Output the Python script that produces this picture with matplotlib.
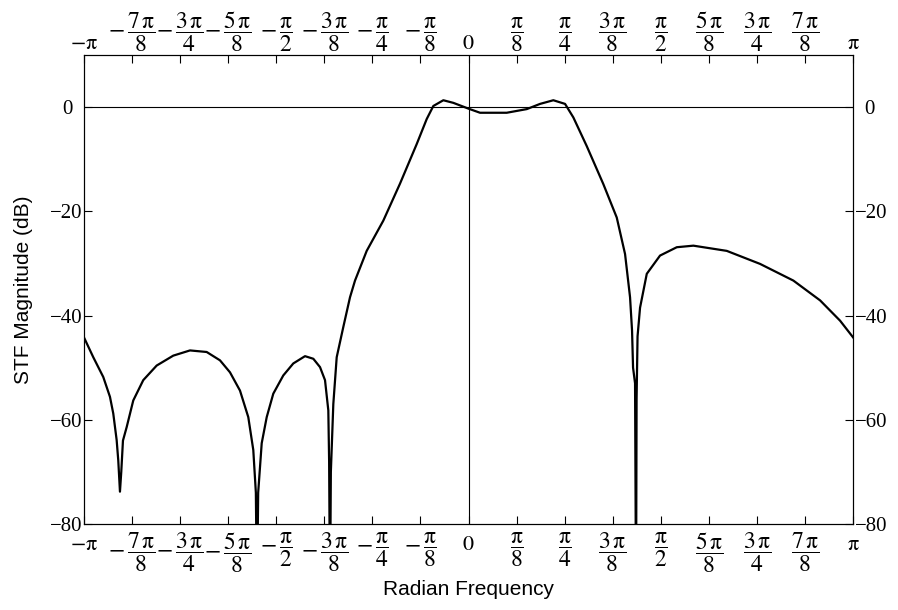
import numpy as np
import matplotlib
matplotlib.use("Agg")
import matplotlib.pyplot as plt

plt.rcParams["mathtext.fontset"] = "stix"
plt.rcParams["font.family"] = "Liberation Serif"

# frequency in units of pi, magnitude in dB
freq_over_pi = [
    -1.0, -0.9758, -0.9498, -0.9324, -0.9238, -0.9150, -0.9108, -0.9064,
    -0.9030, -0.8986, -0.8889, -0.8718, -0.8458, -0.8109, -0.7678, -0.7243,
    -0.6809, -0.6463, -0.6203, -0.5943, -0.5727, -0.5597, -0.5530, -0.5501,
    -0.5470, -0.5378, -0.5248, -0.5077, -0.4817, -0.4557, -0.4252, -0.4036,
    -0.3862, -0.3732, -0.3646, -0.3625, -0.3602, -0.3580, -0.3516, -0.3428,
    -0.3256, -0.3082, -0.2952, -0.2648, -0.2216, -0.1782, -0.1347, -0.1087,
    -0.0915, -0.0655, -0.0395, -0.0005, 0.0299, 0.0993, 0.1514, 0.1860,
    0.2205, 0.2510, 0.2726, 0.3074, 0.3506, 0.3854, 0.4070, 0.4200,
    0.4252, 0.4278, 0.4330, 0.4356, 0.4370, 0.4395, 0.4460, 0.4635,
    0.4980, 0.5415, 0.5847, 0.6715, 0.7581, 0.8447, 0.9142, 0.9662,
    1.0,
]
mag_db = [
    -44.2, -48.0, -51.8, -55.6, -58.8, -63.9, -67.8, -73.8,
    -70.0, -64.0, -61.4, -56.3, -52.4, -49.6, -47.7, -46.7,
    -47.0, -48.6, -50.9, -54.4, -59.5, -65.8, -74.0, -95.0,
    -74.0, -64.5, -59.5, -55.0, -51.5, -49.2, -47.8, -48.3,
    -49.9, -52.4, -58.2, -68.0, -95.0, -70.0, -57.0, -48.0,
    -42.2, -36.5, -33.3, -27.6, -21.8, -14.7, -7.1, -2.3,
    0.2, 1.3, 0.8, -0.3, -1.1, -1.1, -0.4, 0.6,
    1.3, 0.6, -2.0, -7.5, -14.8, -21.2, -28.2, -36.5,
    -42.9, -50.0, -53.0, -95.0, -56.0, -44.0, -38.5, -32.0,
    -28.5, -26.9, -26.6, -27.6, -30.1, -33.3, -37.1, -41.0,
    -44.2,
]

tick_vals = [-1, -7/8, -3/4, -5/8, -1/2, -3/8, -1/4, -1/8, 0,
             1/8, 1/4, 3/8, 1/2, 5/8, 3/4, 7/8, 1]
# numerator, denominator of each tick (as multiples of pi)
tick_num = ["-\\mathrm{\\pi}", "7", "3", "5", "", "3", "", "", "0",
            "", "", "3", "", "5", "3", "7", "\\mathrm{\\pi}"]
tick_den = [None, "8", "4", "8", "2", "8", "4", "8", None,
            "8", "4", "8", "2", "8", "4", "8", None]
y_ticks = [0, -20, -40, -60, -80]


def make_label(val, num, den):
    if den is None:
        return r"$%s$" % num
    sign = r"-\," if val < 0 else ""
    gap = r"\," if num else ""
    return r"$%s\dfrac{%s%s\mathrm{\pi}}{%s}$" % (sign, num, gap, den)


tick_labels = [make_label(v, n, d) for v, n, d in zip(tick_vals, tick_num, tick_den)]

fig = plt.figure(figsize=(8.98, 6.10), dpi=100)
ax = fig.add_axes([0.0935, 0.141, 0.8565, 0.769])

x = np.array(freq_over_pi) * np.pi
ax.plot(x, mag_db, color="black", linewidth=1.6)
ax.axhline(0, color="black", linewidth=0.8)
ax.axvline(0, color="black", linewidth=0.8)

ax.set_xlim(-np.pi, np.pi)
ax.set_ylim(-80, 10)
ax.set_yticks(y_ticks)
ax.tick_params(axis="y", direction="in", length=6, width=0.8,
               right=True, labelright=True, labelsize=15, pad=1)
for tick, val in zip(ax.yaxis.get_major_ticks(), y_ticks):
    if val == 0:
        tick.set_pad(8)

ax_top = ax.twiny()
ax_top.set_xlim(ax.get_xlim())

for a, top in [(ax, False), (ax_top, True)]:
    a.set_xticks(np.array(tick_vals) * np.pi)
    a.set_xticklabels(tick_labels)
    a.tick_params(axis="x", direction="in", length=6, width=0.8, labelsize=17,
                  pad=0.5 if top else 4.5)
    for tick, den in zip(a.xaxis.get_major_ticks(), tick_den):
        lab = tick.label2 if top else tick.label1
        lab.set_fontsize(16 if den is None else 17)
        if den is None and not top:
            tick.set_pad(9)

for a in (ax, ax_top):
    for sp in a.spines.values():
        sp.set_linewidth(0.8)

ax.set_xlabel("Radian Frequency", family="Liberation Sans", fontsize=15, labelpad=4)
ax.set_ylabel("STF Magnitude (dB)", family="Liberation Sans", fontsize=15, labelpad=12)

fig.savefig("out.png", dpi=100)
